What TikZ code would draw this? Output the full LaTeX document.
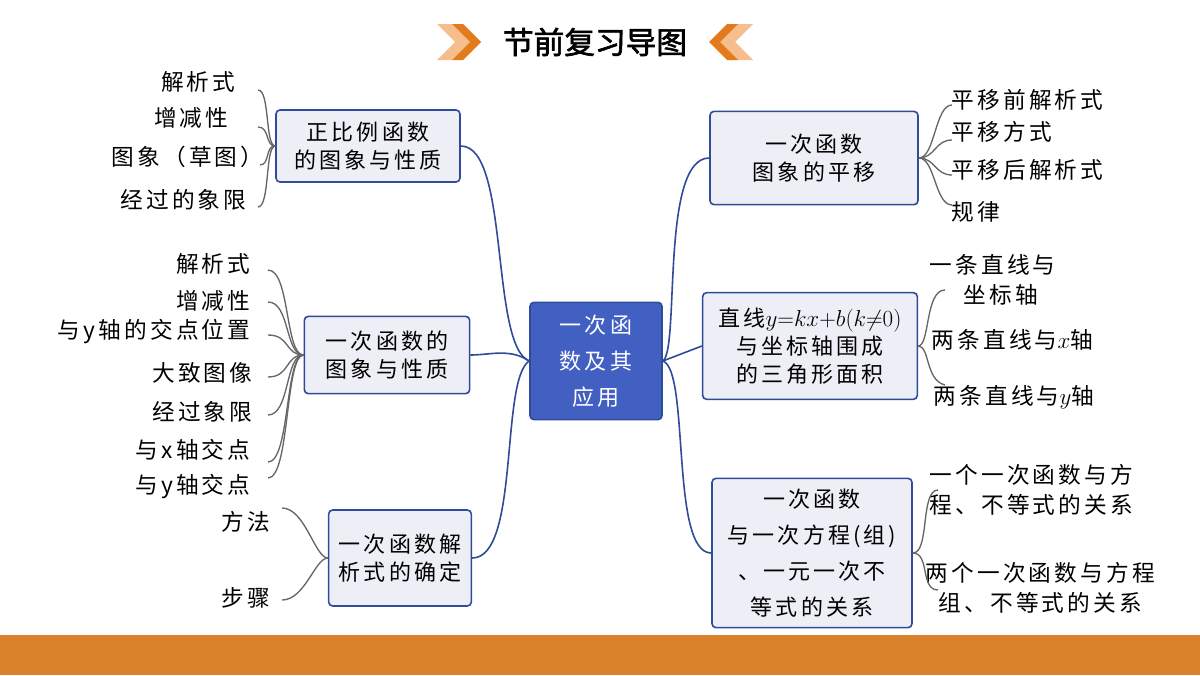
\documentclass[tikz,border=0pt]{standalone}
\usepackage{fontspec}
\setmainfont[LetterSpace=14]{Noto Sans CJK SC}
\newfontfamily\cjkb[FakeBold=2]{Noto Sans CJK SC}
\begin{document}
\begin{tikzpicture}[x=0.75pt,y=-0.75pt,
 box/.style={draw=bdr,fill=boxf,rounded corners=3pt,line width=1.2pt,align=center,font=\fontsize{16.5}{21}\selectfont,inner sep=2pt},
 leaf/.style={font=\fontsize{17}{22}\selectfont,align=center,inner sep=1pt},
 bl/.style={draw=bdr,line width=1.2pt},
 gl/.style={draw=gray!80!black,line width=1pt}]
\definecolor{bdr}{HTML}{2F4B9A}
\definecolor{boxf}{HTML}{EDEEF6}
\definecolor{cen}{HTML}{4160C2}
\definecolor{org}{HTML}{D9822B}
\definecolor{lorg}{HTML}{F5BE8C}
\definecolor{dorg}{HTML}{E37A1C}
\useasboundingbox (0,0) rectangle (1200,675);
\fill[white] (0,0) rectangle (1200,675);
\fill[org] (0,635) rectangle (1200,675);
% title
\node (title) at (595,42) {\cjkb\fontsize{23}{26}\selectfont 节前复习导图};
\fill[lorg] (437,24)--(452,24)--(470,42)--(452,60)--(437,60)--(455,42)--cycle;
\fill[dorg] (452,24)--(463,24)--(481,42)--(463,60)--(452,60)--(470,42)--cycle;
\fill[lorg] (753,24)--(738,24)--(720,42)--(738,60)--(753,60)--(735,42)--cycle;
\fill[dorg] (738,24)--(727,24)--(709,42)--(727,60)--(738,60)--(720,42)--cycle;
% boxes
\node[draw=bdr,fill=cen,rounded corners=3pt,line width=1.2pt,minimum width=99pt,minimum height=88pt,text=white,align=center,font=\fontsize{16.5}{27}\selectfont] (c) at (596,361) {一次函\\数及其\\应用};
\node[box,minimum width=138pt,minimum height=54pt] (a1) at (368,146) {正比例函数\\的图象与性质};
\node[box,minimum width=124pt,minimum height=58pt] (a2) at (387,355) {一次函数的\\图象与性质};
\node[box,minimum width=107pt,minimum height=72pt] (a3) at (400,558) {一次函数解\\析式的确定};
\node[box,minimum width=156pt,minimum height=70pt] (b1) at (814,158) {一次函数\\图象的平移};
\node[box,minimum width=161pt,minimum height=80pt] (b2) at (810,346) {直线$y{=}kx{+}b(k{\neq}0)$\\与坐标轴围成\\的三角形面积};
\node[box,minimum width=150pt,minimum height=112pt,font=\fontsize{16.5}{27}\selectfont] (b3) at (812,553) {一次函数\\与一次方程(组)\\、一元一次不\\等式的关系};
% center links
\draw[bl] (c.west) .. controls (490,345) and (510,146) .. (a1.east);
\draw[bl] (c.west) .. controls (510,348) and (490,355) .. (a2.east);
\draw[bl] (c.west) .. controls (500,380) and (520,558) .. (a3.east);
\draw[bl] (c.east) .. controls (680,350) and (660,158) .. (b1.west);
\draw[bl] (c.east) -- (b2.west);
\draw[bl] (c.east) .. controls (690,370) and (670,553) .. (b3.west);
% left leaves group 1
\node[leaf,anchor=east] (l11) at (237,82) {解析式};
\node[leaf,anchor=east] (l12) at (230,118) {增减性};
\node[leaf,anchor=east] (l13) at (265,157) {图象（草图）};
\node[leaf,anchor=east] (l14) at (248,200) {经过的象限};
\foreach \x/\y in {258/90,258/127,260/165,258/207}
  \draw[gl] (a1.west) .. controls (265,146) and (270,\y) .. (\x,\y);
% group 2
\node[leaf,anchor=east] (l21) at (252,264) {解析式};
\node[leaf,anchor=east] (l22) at (252,301) {增减性};
\node[leaf,anchor=east] (l23) at (252,332) {与y轴的交点位置};
\node[leaf,anchor=east] (l24) at (254,373) {大致图像};
\node[leaf,anchor=east] (l25) at (254,412) {经过象限};
\node[leaf,anchor=east] (l26) at (252,450) {与x轴交点};
\node[leaf,anchor=east] (l27) at (252,487) {与y轴交点};
\foreach \y in {270,302,335,377,415,462,478}
  \draw[gl] (a2.west) .. controls (285,355) and (290,\y) .. (268,\y);
% group 3
\node[leaf,anchor=east] (l31) at (272,522) {方法};
\node[leaf,anchor=east] (l32) at (272,598) {步骤};
\draw[gl] (a3.west) .. controls (315,558) and (305,508) .. (282,508);
\draw[gl] (a3.west) .. controls (315,558) and (305,600) .. (282,600);
% right group 1
\node[leaf,anchor=west] (r11) at (950,100) {平移前解析式};
\node[leaf,anchor=west] (r12) at (950,132) {平移方式};
\node[leaf,anchor=west] (r13) at (950,170) {平移后解析式};
\node[leaf,anchor=west] (r14) at (950,212) {规律};
\foreach \y in {105,140,175,205}
  \draw[gl] (b1.east) .. controls (935,158) and (935,\y) .. (952,\y);
% right group 2
\node[leaf,anchor=west,align=left] (r21) at (928,280) {一条直线与\\\hspace*{1.5em}坐标轴};
\node[leaf,anchor=west] (r22) at (930,340) {两条直线与$x$轴};
\node[leaf,anchor=west] (r23) at (932,397) {两条直线与$y$轴};
\draw[gl] (b2.east) .. controls (930,346) and (925,290) .. (945,290);
\draw[gl] (b2.east) .. controls (930,346) and (925,380) .. (945,385);
% right group 3
\node[leaf,anchor=west] (r31) at (928,490) {一个一次函数与方\\程、不等式的关系};
\node[leaf,anchor=west] (r32) at (924,588) {两个一次函数与方程\\组、不等式的关系};
\draw[gl] (b3.east) .. controls (930,553) and (920,490) .. (938,490);
\draw[gl] (b3.east) .. controls (930,553) and (920,590) .. (938,590);
\end{tikzpicture}
\end{document}
